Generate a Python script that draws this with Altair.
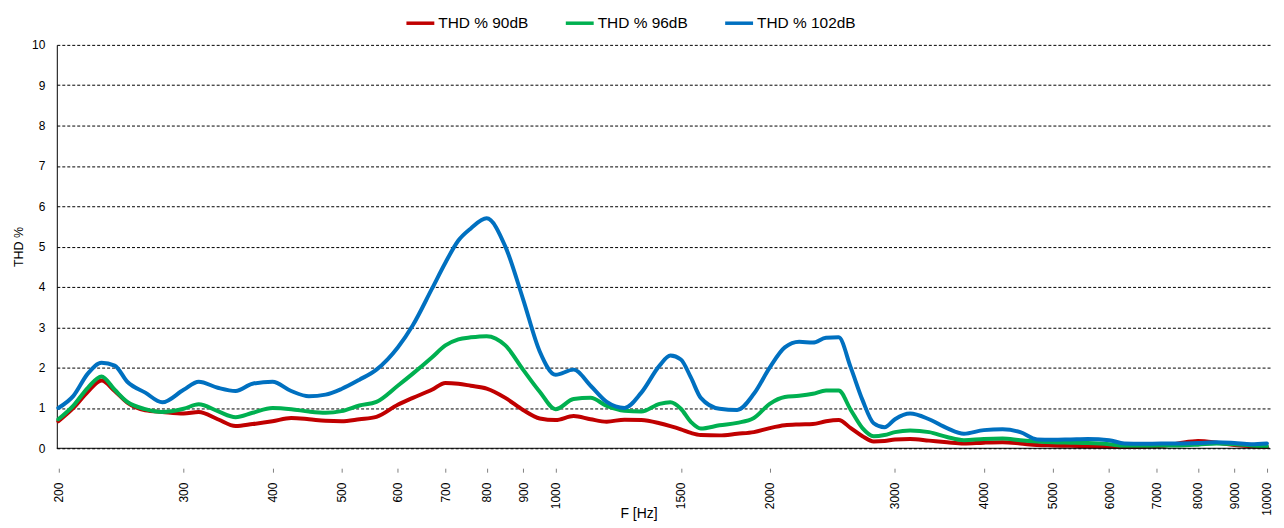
import altair as alt
import pandas as pd

freq = [200, 210, 220, 230, 240, 250, 265, 280, 300, 315,
        335, 355, 375, 400, 425, 450, 475, 500, 530, 560,
        600, 630, 670, 700, 730, 760, 800, 850, 900, 950,
        1000, 1060, 1120, 1180, 1250, 1320, 1400, 1450, 1500, 1550,
        1600, 1700, 1800, 1900, 2000, 2100, 2200, 2300, 2400, 2500,
        2600, 2700, 2800, 2900, 3000, 3150, 3350, 3550, 3750, 4000,
        4250, 4500, 4750, 5000, 5300, 5600, 6000, 6300, 6700, 7100,
        7500, 8000, 8500, 9000, 9500, 10000]

thd_90 = [0.67, 1.0, 1.4, 1.68, 1.42, 1.13, 0.94, 0.9, 0.86, 0.9,
          0.72, 0.55, 0.6, 0.67, 0.75, 0.72, 0.68, 0.67, 0.72, 0.78,
          1.08, 1.25, 1.45, 1.62, 1.6, 1.55, 1.48, 1.25, 0.95, 0.74,
          0.7, 0.8, 0.72, 0.66, 0.71, 0.7, 0.62, 0.55, 0.47, 0.38,
          0.33, 0.32, 0.36, 0.4, 0.5, 0.57, 0.59, 0.6, 0.67, 0.7,
          0.5, 0.3, 0.17, 0.18, 0.22, 0.23, 0.19, 0.15, 0.12, 0.14,
          0.15, 0.12, 0.08, 0.07, 0.06, 0.05, 0.04, 0.03, 0.04, 0.06,
          0.12, 0.18, 0.14, 0.08, 0.05, 0.03]

thd_96 = [0.72, 1.06, 1.5, 1.78, 1.45, 1.15, 0.97, 0.9, 0.98, 1.09,
          0.92, 0.77, 0.88, 1.0, 0.97, 0.91, 0.88, 0.92, 1.06, 1.15,
          1.55, 1.85, 2.25, 2.55, 2.7, 2.75, 2.78, 2.55, 1.95, 1.4,
          0.97, 1.22, 1.25, 1.05, 0.93, 0.91, 1.1, 1.14, 0.98, 0.65,
          0.49, 0.57, 0.63, 0.75, 1.1, 1.27, 1.3, 1.35, 1.43, 1.43,
          0.95, 0.5, 0.3, 0.33, 0.4, 0.44, 0.4, 0.28, 0.2, 0.23,
          0.24, 0.2, 0.17, 0.15, 0.14, 0.13, 0.1, 0.06, 0.06, 0.07,
          0.07, 0.09, 0.12, 0.1, 0.07, 0.05]

thd_102 = [1.0, 1.3, 1.85, 2.12, 2.05, 1.65, 1.38, 1.14, 1.45, 1.65,
           1.5, 1.42, 1.6, 1.65, 1.42, 1.29, 1.33, 1.47, 1.7, 1.95,
           2.5, 3.05, 3.95, 4.6, 5.15, 5.45, 5.7, 5.0, 3.7, 2.4,
           1.82, 1.95, 1.55, 1.15, 1.0, 1.38, 2.05, 2.3, 2.2, 1.75,
           1.25, 0.98, 0.95, 1.35, 2.0, 2.5, 2.64, 2.62, 2.74, 2.75,
           2.0, 1.2, 0.62, 0.52, 0.72, 0.86, 0.72, 0.5, 0.36, 0.45,
           0.47, 0.4, 0.22, 0.21, 0.22, 0.23, 0.2, 0.12, 0.11, 0.12,
           0.12, 0.13, 0.15, 0.13, 0.1, 0.12]

series = ["THD % 90dB", "THD % 96dB", "THD % 102dB"]
colors = ["#C00000", "#00B050", "#0070C0"]
x_ticks = [200, 300, 400, 500, 600, 700, 800, 900, 1000, 1500, 2000,
           3000, 4000, 5000, 6000, 7000, 8000, 9000, 10000]
y_ticks = [0, 1, 2, 3, 4, 5, 6, 7, 8, 9, 10]

rows = []
for name, vals in zip(series, [thd_90, thd_96, thd_102]):
    for f, v in zip(freq, vals):
        rows.append({"F": f, "THD": v, "series": name})
df = pd.DataFrame(rows)

FONT = "Liberation Sans"
W, H = 1218, 405

x_enc = alt.X(
    "F:Q",
    scale=alt.Scale(type="log", domain=[199, 10100], nice=False),
    axis=alt.Axis(
        values=x_ticks, format="d", title="F [Hz]", grid=False, domain=False,
        offset=20, tickSize=4, tickColor="#808080", tickWidth=1,
        labelAngle=270, labelPadding=10, labelFontSize=12, labelColor="#000000",
        labelFont=FONT, titleFont=FONT, titleFontSize=14, titleFontWeight="normal",
        titleColor="#000000", titleX=584, titleY=49, titleAlign="center",
        titleBaseline="alphabetic", labelOverlap=False,
    ),
)
y_enc = alt.Y(
    "THD:Q",
    scale=alt.Scale(domain=[0, 10], nice=False),
    axis=alt.Axis(
        values=y_ticks, title="THD %", grid=True, gridColor="#000000",
        gridDash=[3, 2], gridWidth=1, ticks=False, domain=True,
        domainColor="#000000", domainWidth=1, labelPadding=12,
        labelFontSize=12, labelColor="#000000", labelFont=FONT,
        titleFont=FONT, titleFontSize=12.5, titleFontWeight="normal",
        titleColor="#000000", titlePadding=6,
    ),
)

baseline = alt.Chart(pd.DataFrame({"THD": [0]})).mark_rule(
    color="#000000", strokeWidth=1
).encode(y=alt.Y("THD:Q"))

lines = alt.Chart(df).mark_line(
    strokeWidth=4, interpolate="monotone", strokeCap="round", strokeJoin="round"
).encode(
    x=x_enc,
    y=y_enc,
    color=alt.Color(
        "series:N",
        scale=alt.Scale(domain=series, range=colors),
        sort=series,
        legend=alt.Legend(
            title=None, orient="none", legendX=349, legendY=-38,
            direction="horizontal", columns=3, symbolType="stroke",
            symbolSize=784, symbolStrokeWidth=3.5, labelFontSize=15.5,
            labelFont=FONT, labelColor="#000000", labelOffset=2,
            columnPadding=30, padding=0,
        ),
    ),
)

chart = alt.layer(lines, baseline).properties(
    width=W, height=H,
    autosize=alt.AutoSizeParams(type="none"),
    padding={"left": 49, "top": 36, "right": 6, "bottom": 76},
).configure_view(stroke=None)

chart.save("out.html", embed_options={"renderer": "svg", "actions": False})
